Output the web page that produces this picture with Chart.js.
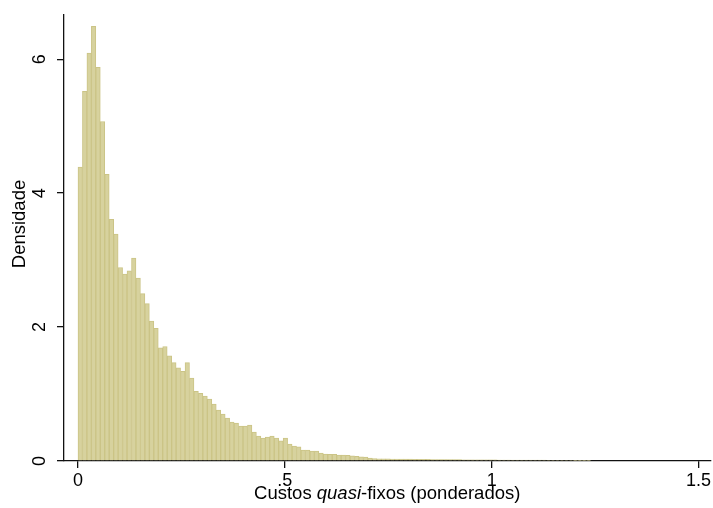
<!DOCTYPE html>
<html>
<head>
<meta charset="utf-8">
<script src="https://cdn.jsdelivr.net/npm/chart.js@4.4.1/dist/chart.umd.min.js"></script>
<style>
  html, body { margin: 0; padding: 0; background: #fff; }
  #wrap { width: 713px; height: 508px; position: relative; }
</style>
</head>
<body>
<div id="wrap"><canvas id="hist"></canvas></div>
<script>
// histogram of weighted quasi-fixed costs, drawn to look like the Stata export

const BIN_WIDTH = 1.24 / 115;

// density per bin (115 bins from 0 to 1.24)
const density = [
  4.39, 5.52, 6.09, 6.49, 5.88, 5.07, 4.28, 3.61, 3.39, 2.89,
  2.79, 2.84, 3.03, 2.73, 2.50, 2.35, 2.09, 1.98, 1.69, 1.71,
  1.57, 1.47, 1.39, 1.34, 1.47, 1.24, 1.04, 1.01, 0.97, 0.925,
  0.85, 0.76, 0.70, 0.64, 0.58, 0.567, 0.52, 0.52, 0.537, 0.433,
  0.373, 0.343, 0.358, 0.373, 0.343, 0.30, 0.343, 0.254, 0.224, 0.21,
  0.164, 0.164, 0.149, 0.149, 0.12, 0.105, 0.10, 0.10, 0.09, 0.088,
  0.085, 0.078, 0.07, 0.064, 0.058, 0.045, 0.038,
  0.034, 0.032, 0.031, 0.030, 0.029, 0.028, 0.027, 0.027, 0.026, 0.025,
  0.025, 0.024, 0.023, 0.023, 0.022, 0.022, 0.021, 0.020, 0.020, 0.019,
  0.019, 0.018, 0.018, 0.017, 0.017, 0.016, 0.016, 0.015, 0.015, 0.015,
  0.014, 0.014, 0.013, 0.013, 0.013, 0.012, 0.012, 0.012, 0.011, 0.011,
  0.011, 0.010, 0.010, 0.010, 0.009, 0.009, 0.009, 0.008
];

const xTicks = [0, 0.5, 1, 1.5];
const yTicks = [0, 2, 4, 6];
const yTitle = "Densidade";
// [text, italic]
const xTitleParts = [["Custos ", false], ["quasi", true], ["-fixos (ponderados)", false]];

const FONT = '"Liberation Sans", Arial, sans-serif';
const TITLE_SIZE = 18.5;

const points = density.map((d, i) => ({ x: (i + 0.5) * BIN_WIDTH, y: d }));

// stata writes .5 instead of 0.5
const stataNum = (v) => (v > 0 && v < 1) ? String(v).replace(/^0/, "") : String(v);

const labelsPlugin = {
  id: "stataLabels",
  afterDraw(chart) {
    const ctx = chart.ctx;
    const ys = chart.scales.y;
    const area = chart.chartArea;
    ctx.save();
    ctx.fillStyle = "#000";
    ctx.textBaseline = "middle";
    ctx.textAlign = "center";

    // rotated y tick labels
    ctx.font = `18px ${FONT}`;
    ys.ticks.forEach(t => {
      const py = ys.getPixelForValue(t.value);
      ctx.save();
      ctx.translate(40.5, py);
      ctx.rotate(-Math.PI / 2);
      ctx.fillText(stataNum(t.value), 0, 0);
      ctx.restore();
    });

    // y title
    ctx.font = `${TITLE_SIZE}px ${FONT}`;
    ctx.save();
    ctx.translate(20, 224);
    ctx.rotate(-Math.PI / 2);
    ctx.fillText(yTitle, 0, 0);
    ctx.restore();

    // x title with italic part
    const fonts = xTitleParts.map(p => `${p[1] ? "italic " : ""}${TITLE_SIZE}px ${FONT}`);
    const widths = xTitleParts.map((p, i) => { ctx.font = fonts[i]; return ctx.measureText(p[0]).width; });
    const total = widths.reduce((a, b) => a + b, 0);
    let x = (area.left + area.right) / 2 - total / 2;
    ctx.textAlign = "left";
    xTitleParts.forEach((p, i) => {
      ctx.font = fonts[i];
      ctx.fillText(p[0], x, 494);
      x += widths[i];
    });
    ctx.restore();
  }
};

window.addEventListener("DOMContentLoaded", () => {
  const ctx = document.getElementById("hist").getContext("2d");
  new Chart(ctx, {
    type: "bar",
    data: {
      datasets: [{
        data: points,
        backgroundColor: "#d7d29e",
        borderColor: "#cbc486",
        borderWidth: 1,
        barPercentage: 1,
        categoryPercentage: 1
      }]
    },
    options: {
      responsive: true,
      maintainAspectRatio: false,
      animation: false,
      layout: { padding: { top: 15, right: 1, left: 0, bottom: 0 } },
      plugins: { legend: { display: false }, tooltip: { enabled: false } },
      scales: {
        x: {
          type: "linear",
          min: -0.0338,
          max: 1.529,
          offset: false,
          grid: { offset: false, drawOnChartArea: false, drawTicks: true, tickLength: 7, color: "#111", lineWidth: 1.3 },
          border: { display: true, color: "#111", width: 1.3 },
          afterBuildTicks: (s) => { s.ticks = xTicks.map(v => ({ value: v })); },
          afterFit: (s) => { s.height = 47; },
          ticks: {
            color: "#000",
            padding: 2,
            maxRotation: 0,
            font: { family: FONT, size: 18 },
            callback: (v) => stataNum(v)
          }
        },
        y: {
          min: 0,
          max: 6.66,
          grid: { drawOnChartArea: false, drawTicks: true, tickLength: 7, color: "#111", lineWidth: 1.3 },
          border: { display: true, color: "#111", width: 1.3 },
          afterBuildTicks: (s) => { s.ticks = yTicks.map(v => ({ value: v })); },
          afterFit: (s) => { s.width = 64; },
          ticks: { display: false }
        }
      }
    },
    plugins: [labelsPlugin]
  });
});
</script>
</body>
</html>
